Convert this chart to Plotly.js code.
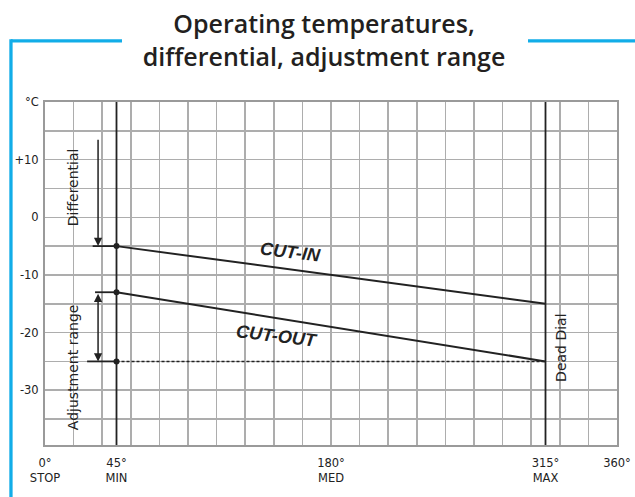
<!DOCTYPE html>
<html>
<head>
<meta charset="utf-8">
<script src="https://cdn.plot.ly/plotly-3.0.1.min.js"></script>
<style>
  html, body { margin: 0; padding: 0; background: #fff; }
  #chart { width: 635px; height: 497px; }
</style>
</head>
<body>
<div id="chart"></div>
<script>
// ---- data ----
const xTickVals = [0, 45, 180, 315, 360];
const xTickText = ['0°<br>STOP', '45°<br>MIN', '180°<br>MED', '315°<br>MAX', '360°'];
const yTickVals = [20, 15, 10, 5, 0, -5, -10, -15, -20, -25, -30, -35];
const yTickText = ['°C', '', '+10', '', '0', '', '-10', '', '-20', '', '-30', ''];
const dialLimits = [45, 315];            // MIN / MAX dial positions
const cutInX = [45, 315];
const cutInY = [-5, -15];
const cutOutX = [45, 315];
const cutOutY = [-13, -25];
const deadX = [45, 315];
const deadY = [-25, -25];
const markerX = [45, 45, 45];
const markerY = [-5, -13, -25];
const leaderStartX = [30, 31.5, 26.5];   // left ends of the short reference lines
const arrowX = 33.4;
const differentialArrow = [13.7, -5];     // from, to
const adjustmentArrow = [-13, -25];       // both ends

const dark = '#222222';
const blue = '#12ade8';

const traces = [
  { x: cutInX, y: cutInY, mode: 'lines', line: { color: dark, width: 2 }, hoverinfo: 'skip' },
  { x: cutOutX, y: cutOutY, mode: 'lines', line: { color: dark, width: 2 }, hoverinfo: 'skip' },
  { x: deadX, y: deadY, mode: 'lines', line: { color: dark, width: 1.5, dash: '3px,2px' }, hoverinfo: 'skip' },
  { x: markerX, y: markerY, mode: 'markers', marker: { color: dark, size: 6 }, hoverinfo: 'skip' }
];

const shapes = [];
dialLimits.forEach(v => shapes.push({
  type: 'line', xref: 'x', yref: 'paper', x0: v, x1: v, y0: 0, y1: 1,
  line: { color: dark, width: 1.8 }
}));
leaderStartX.forEach((x0, i) => shapes.push({
  type: 'line', xref: 'x', yref: 'y', x0: x0, x1: markerX[i], y0: markerY[i], y1: markerY[i],
  line: { color: dark, width: 1.8 }
}));
// blue decorative frame lines (paper coordinates)
shapes.push({ type: 'line', xref: 'paper', yref: 'paper', x0: -0.0595, x1: 0.1346, y0: 1.178, y1: 1.178, line: { color: blue, width: 3.3 } });
shapes.push({ type: 'line', xref: 'paper', yref: 'paper', x0: -0.0595, x1: -0.0595, y0: 1.183, y1: -0.16, line: { color: blue, width: 3.3 } });
shapes.push({ type: 'line', xref: 'paper', yref: 'paper', x0: 0.8444, x1: 1.04, y0: 1.178, y1: 1.178, line: { color: blue, width: 3.3 } });

const labelFont = { family: 'DejaVu Sans, sans-serif', size: 14, color: dark };
const cutFont = { family: 'Liberation Sans, Arial, sans-serif', size: 18, color: dark, weight: 'bold', style: 'italic' };

const annotations = [
  { x: arrowX, y: differentialArrow[1], ax: arrowX, ay: differentialArrow[0], axref: 'x', ayref: 'y', xref: 'x', yref: 'y',
    text: '', showarrow: true, arrowhead: 2, arrowsize: 1.1, arrowwidth: 1.5, arrowcolor: dark, standoff: 0 },
  { x: arrowX, y: adjustmentArrow[1], ax: arrowX, ay: adjustmentArrow[0], axref: 'x', ayref: 'y', xref: 'x', yref: 'y',
    text: '', showarrow: true, arrowhead: 2, startarrowhead: 2, arrowside: 'end+start', arrowsize: 1.1, startarrowsize: 1.1,
    arrowwidth: 1.5, arrowcolor: dark, standoff: 0, startstandoff: 0 },
  { x: 17.6, y: 5.2, xref: 'x', yref: 'y', text: 'Differential', textangle: -90, showarrow: false, font: labelFont },
  { x: 17.6, y: -26.0, xref: 'x', yref: 'y', text: 'Adjustment range', textangle: -90, showarrow: false, font: labelFont },
  { x: 324.6, y: -22.7, xref: 'x', yref: 'y', text: 'Dead Dial', textangle: -90, showarrow: false, font: labelFont },
  { x: 154.2, y: -6.1, xref: 'x', yref: 'y', text: 'CUT-IN', textangle: 7, showarrow: false, font: cutFont },
  { x: 146, y: -20.6, xref: 'x', yref: 'y', text: 'CUT-OUT', textangle: 7, showarrow: false, font: cutFont }
];

const layout = {
  width: 635, height: 497,
  margin: { l: 45, r: 18, t: 102, b: 52, pad: 0 },
  paper_bgcolor: '#ffffff', plot_bgcolor: '#ffffff',
  showlegend: false,
  title: {
    text: 'Operating temperatures,<br>differential, adjustment range',
    font: { family: 'Open Sans, sans-serif', size: 25, color: '#231f20', weight: 600 },
    x: 324 / 635, xref: 'container', xanchor: 'center',
    y: 1 - 33 / 497, yref: 'container', yanchor: 'top'
  },
  xaxis: {
    range: [0, 360], tickmode: 'array', tickvals: xTickVals, ticktext: xTickText,
    showgrid: false, zeroline: false, ticks: '', ticklabelstandoff: 6,
    minor: { tickmode: 'linear', tick0: 0, dtick: 18, showgrid: true, gridcolor: '#adadad', gridwidth: 1.5, ticks: '' },
    showline: true, mirror: true, linecolor: '#9a9a9a', linewidth: 2,
    tickfont: { family: 'DejaVu Sans, sans-serif', size: 11.5, color: dark },
    fixedrange: true
  },
  yaxis: {
    range: [-39.5, 20], tickmode: 'array', tickvals: yTickVals, ticktext: yTickText,
    showgrid: true, gridcolor: '#adadad', gridwidth: 1.5, zeroline: false, ticks: '', ticklabelstandoff: 2,
    showline: true, mirror: true, linecolor: '#9a9a9a', linewidth: 2,
    tickfont: { family: 'DejaVu Sans, sans-serif', size: 11.5, color: dark },
    fixedrange: true
  },
  shapes: shapes,
  annotations: annotations
};

Plotly.newPlot('chart', traces, layout, { displayModeBar: false, staticPlot: true });
</script>
</body>
</html>
